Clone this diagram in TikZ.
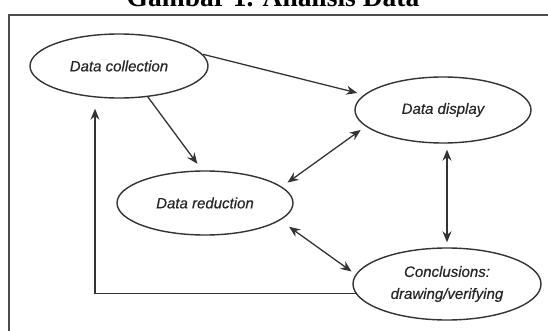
\documentclass[tikz,border=0pt]{standalone}
\usepackage{fontspec}
\setmainfont{Liberation Serif}
\setsansfont{Liberation Sans}
\newfontfamily\stagefont[FakeBold=0.5]{Liberation Sans Italic}
\usetikzlibrary{arrows.meta,shapes.geometric}

\begin{document}
\begin{tikzpicture}[x=1pt,y=-1pt,
    stage/.style={draw=black!80, line width=1.4pt, ellipse, inner sep=0pt, align=center, text=black!85, font=\stagefont\fontsize{15}{22}\selectfont},
    link/.style={-{Stealth[length=11pt,width=9pt]}, line width=1.3pt, draw=black!80},
    both/.style={{Stealth[length=11pt,width=9pt]}-{Stealth[length=11pt,width=9pt]}, line width=1.3pt, draw=black!80}]
    \useasboundingbox (0,0) rectangle (548,331);
    % Title and frame
    \node[font=\bfseries\fontsize{27.5}{30}\selectfont, anchor=base] (title) at (273,7) {Gambar 1. Analisis Data};
    \draw[line width=2.5pt, black!70] (9,345) -- (9,15) -- (560,15);
    % Nodes
    \node[stage, minimum width=178pt, minimum height=64pt] (collection) at (119,66) {Data collection};
    \node[stage, minimum width=176pt, minimum height=66pt] (display) at (443,110) {Data display};
    \node[stage, minimum width=176pt, minimum height=64pt] (reduction) at (205,203) {Data reduction};
    \node[stage, minimum width=188pt, minimum height=72pt] (conclusions) at (447,284) {Conclusions:\\drawing/verifying};
    % Arrows
    \draw[link, shorten >=7pt] (collection.8) -- (display.169);
    \draw[link, shorten >=8pt] (collection.-47) -- (reduction.95);
    \draw[both, shorten <=6pt, shorten >=7pt] (display.192) -- (reduction.12);
    \draw[both, shorten <=6pt, shorten >=5pt] (conclusions.north |- display.south) -- (conclusions.north);
    \draw[both, shorten <=11pt, shorten >=5pt] (reduction.-13) -- (conclusions.174);
    % Loop back to the start
    \draw[link, shorten >=10pt] (conclusions.186) -| ([xshift=-24pt]collection.south);
\end{tikzpicture}
\end{document}
